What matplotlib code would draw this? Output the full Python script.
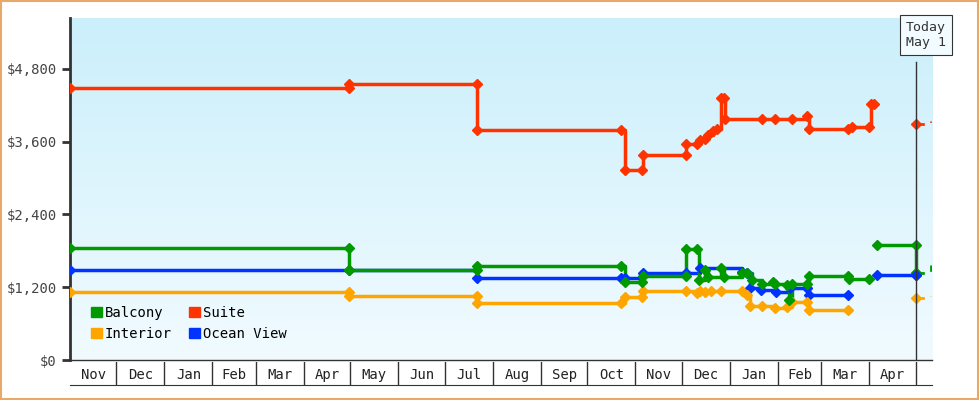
import numpy as np
import matplotlib
matplotlib.use("Agg")
import matplotlib.pyplot as plt
from matplotlib.patches import Rectangle

plt.rcParams["font.family"] = ["DejaVu Sans Mono"]

# x = days since Nov 1, y = price ($); nan breaks a line
SUITE_X = [0, 180, 180, 263, 263, 356, 358, 369, 370, 398, 398, 405, 407, 410, 412, 415,
           418, 420, 422, 423, 447, 455, 466, 476, 477, 502, 505, 516, 517, 519]
SUITE_Y = [4490, 4490, 4550, 4550, 3790, 3790, 3130, 3130, 3380, 3380, 3560, 3560, 3630, 3650,
           3710, 3780, 3810, 4320, 4320, 3975, 3975, 3975, 3975, 4020, 3810, 3810, 3840, 3840,
           4220, 4220]
BALC_X = [0, 180, 180, 263, 263, 356, 358, 369, 370, 398, 398, 405, 406, 410, 412, 420, 422,
          434, 437, 440, 447, 454, 455, 463, 464, 466, 476, 477, 502, 503, 516, 517, 521, 546, 546]
BALC_Y = [1847, 1847, 1484, 1484, 1550, 1550, 1286, 1286, 1385, 1385, 1831, 1831, 1320, 1484,
          1369, 1517, 1369, 1435, 1435, 1320, 1253, 1286, 1253, 1237, 990, 1253, 1253, 1385,
          1385, 1336, 1336, np.nan, 1897, 1897, 1435]
OCEAN_X = [0, 180, 263, 356, 358, 370, 398, 407, 434, 437, 439, 446, 456, 465, 476, 477, 502,
           502.1, 521, 546]
OCEAN_Y = [1484, 1484, 1352, 1352, 1352, 1435, 1435, 1517, 1451, 1435, 1187, 1155, 1122, 1187,
           1187, 1072, 1072, np.nan, 1402, 1402]
INT_X = [0, 180, 180, 263, 263, 356, 358, 369, 370, 398, 405, 407, 410, 414, 420, 434, 437,
         439, 447, 455, 463, 466, 476, 477, 502]
INT_Y = [1122, 1122, 1056, 1056, 940, 940, 1039, 1039, 1138, 1138, 1105, 1138, 1122, 1138, 1138,
         1138, 1072, 891, 891, 858, 874, 957, 957, 825, 825]
# today's quote and the dashed continuation past it
TODAY_X = [546.5, 556]
TODAY_SUITE = [3890, 3940]
TODAY_BALC = [1435, 1567]
TODAY_INT = [1023, 1056]

MONTHS = ["Nov", "Dec", "Jan", "Feb", "Mar", "Apr", "May", "Jun", "Jul", "Aug", "Sep", "Oct",
          "Nov", "Dec", "Jan", "Feb", "Mar", "Apr"]
MONTH_DAYS = [30, 31, 31, 28, 31, 30, 31, 30, 31, 31, 30, 31, 30, 31, 31, 28, 31, 30]
YTICKS = [0, 1200, 2400, 3600, 4800]

XMAX = 556.5
fig = plt.figure(figsize=(9.8, 4.0), dpi=100)
fig.patches.append(Rectangle((0.001, 0.002), 0.997, 0.995, transform=fig.transFigure,
                             fill=False, edgecolor="#e8a868", lw=1.5))
ax = fig.add_axes([0.0714, 0.1, 0.8796, 0.855])
ax.imshow(np.linspace(0, 1, 256).reshape(-1, 1), aspect="auto", origin="upper",
          cmap=matplotlib.colors.LinearSegmentedColormap.from_list("bg", ["#cbeffb", "#f1fbff"]),
          extent=[0, XMAX, 0, 5640], zorder=0)
ax.set_xlim(0, XMAX)
ax.set_ylim(0, 5640)

colors = {"Balcony": "#009900", "Suite": "#ff3300", "Interior": "#ffa500",
          "Ocean View": "#0033ff"}
for xs, ys, c in [(OCEAN_X, OCEAN_Y, colors["Ocean View"]), (INT_X, INT_Y, colors["Interior"]),
                  (BALC_X, BALC_Y, colors["Balcony"]), (SUITE_X, SUITE_Y, colors["Suite"])]:
    ax.plot(xs, ys, drawstyle="steps-post", color=c, lw=2.5, zorder=3)
    ax.plot(xs, ys, "D", color=c, ms=5.5, zorder=4)
for ys, c in [(TODAY_SUITE, colors["Suite"]), (TODAY_BALC, colors["Balcony"]),
              (TODAY_INT, colors["Interior"])]:
    ax.plot(TODAY_X, ys, drawstyle="steps-post", color=c, lw=2, ls=(0, (3, 3)), zorder=3)
    ax.plot(TODAY_X[:1], ys[:1], "D", color=c, ms=5.5, zorder=4)
ax.plot([546.5], [1402], "D", color=colors["Ocean View"], ms=5.5, zorder=4)

ax.axvline(546.5, ymax=0.87, color="#333333", lw=1, zorder=5)
ax.text(546.5 + 0.5 * (XMAX - 546.5 + 2), 5360, "Today\nMay 1", ha="center", va="center",
        fontsize=9.5, color="#333333", zorder=6,
        bbox=dict(boxstyle="square,pad=0.45", fc="#f2fbff", ec="#333333", lw=0.8))

ax.set_yticks(YTICKS)
ax.set_yticklabels([f"${v:,}" for v in YTICKS], fontsize=10, color="#444444")
ax.set_xticks([])
for s in ["top", "right"]:
    ax.spines[s].set_visible(False)
ax.spines["left"].set_color("#333333")
ax.spines["left"].set_linewidth(2)
ax.spines["bottom"].set_color("#333333")
ax.spines["bottom"].set_linewidth(1)
ax.tick_params(axis="y", length=6, width=2, color="#333333")

names = ["Balcony", "Interior", "Suite", "Ocean View"]
handles = [plt.Rectangle((0, 0), 1, 1, color=colors[n]) for n in names]
ax.legend(handles, names, ncol=2, loc="lower left",
          bbox_to_anchor=(0.01, 0.02), frameon=False, fontsize=10, handlelength=0.8,
          handleheight=0.8, handletextpad=0.2, columnspacing=1.2, labelspacing=0.5)

mx = fig.add_axes([0.0714, 0.0375, 0.8796, 0.0575])
mx.set_xlim(0, XMAX)
mx.set_ylim(0, 1)
bounds = np.concatenate([[0], np.cumsum(MONTH_DAYS)])
for b in bounds[1:]:
    mx.axvline(b, color="#333333", lw=1)
for i, m in enumerate(MONTHS):
    mx.text((bounds[i] + bounds[i + 1]) / 2, 0.45, m, ha="center", va="center", fontsize=10,
            color="#222222")
mx.set_xticks([])
mx.set_yticks([])
for s in ["top", "left", "right"]:
    mx.spines[s].set_visible(False)
mx.spines["bottom"].set_color("#333333")
mx.patch.set_alpha(0)

fig.savefig("out.png", dpi=100)
